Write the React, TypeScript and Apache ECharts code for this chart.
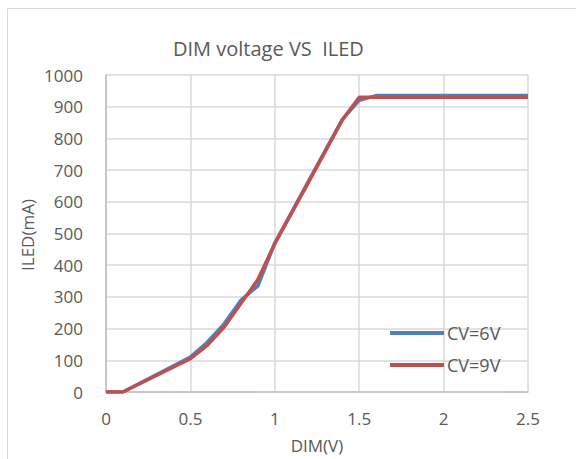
import React, { useEffect, useRef } from "react";
import * as echarts from "echarts";

const xValues = [0, 0.1, 0.5, 0.6, 0.7, 0.8, 0.9, 1.0, 1.2, 1.4, 1.5, 1.6, 2.0, 2.5];
const cv6 = [0, 0, 110, 157, 215, 290, 335, 470, 665, 860, 920, 935, 935, 935];
const cv9 = [0, 0, 105, 147, 205, 280, 355, 468, 662, 858, 930, 930, 930, 930];
const seriesNames = ["CV=6V", "CV=9V"];
const titleText = "DIM voltage VS  ILED";
const xName = "DIM(V)";
const yName = "ILED(mA)";

const FONT = "'Open Sans', 'Noto Sans', sans-serif";
const TXT = "#595959";

export default function App() {
  const ref = useRef<HTMLDivElement>(null);
  useEffect(() => {
    if (!ref.current) return;
    const chart = echarts.init(ref.current, undefined, { renderer: "svg" });
    chart.setOption({
      animation: false,
      backgroundColor: "#ffffff",
      title: {
        text: titleText,
        left: 168,
        top: 33,
        textStyle: { fontFamily: FONT, fontSize: 20, fontWeight: "normal", color: TXT },
      },
      graphic: [
        {
          type: "rect",
          shape: { x: 7.5, y: 8.5, width: 600, height: 500 },
          style: { fill: "none", stroke: "#d9d9d9", lineWidth: 1 },
          silent: true,
        },
        {
          type: "text",
          x: 27,
          y: 235,
          rotation: Math.PI / 2,
          style: {
            text: yName,
            fontFamily: FONT,
            fontSize: 17,
            fill: TXT,
            align: "center",
            verticalAlign: "middle",
          },
        },
      ],
      legend: {
        orient: "vertical",
        left: 385,
        top: 319,
        itemWidth: 54,
        itemHeight: 4,
        itemGap: 14,
        icon: "rect",
        data: seriesNames,
        textStyle: { fontFamily: FONT, fontSize: 18, color: TXT, padding: [0, 0, 0, -2] },
      },
      grid: { left: 106, right: 48, top: 75, bottom: 64, containLabel: false },
      xAxis: {
        type: "value",
        min: 0,
        max: 2.5,
        interval: 0.5,
        name: xName,
        nameLocation: "middle",
        nameGap: 45,
        nameTextStyle: { fontFamily: FONT, fontSize: 17, color: TXT },
        axisLine: { show: true, lineStyle: { color: "#bfbfbf", width: 1.5 } },
        axisTick: { show: false },
        splitLine: { show: true, lineStyle: { color: "#d9d9d9", width: 1.5 } },
        axisLabel: { fontFamily: FONT, fontSize: 17, color: TXT, margin: 18, formatter: (v: number) => String(v) },
      },
      yAxis: {
        type: "value",
        min: 0,
        max: 1000,
        interval: 100,
        axisLine: { show: true, lineStyle: { color: "#bfbfbf", width: 1.5 } },
        axisTick: { show: false },
        splitLine: { show: true, lineStyle: { color: "#d9d9d9", width: 1.5 } },
        axisLabel: { fontFamily: FONT, fontSize: 17, color: TXT, margin: 23, formatter: (v: number) => String(v) },
      },
      series: [
        {
          name: seriesNames[0],
          type: "line",
          data: xValues.map((x, i) => [x, cv6[i]]),
          showSymbol: false,
          symbol: "none",
          lineStyle: { color: "#4f81bd", width: 3.5 },
          itemStyle: { color: "#4f81bd" },
        },
        {
          name: seriesNames[1],
          type: "line",
          data: xValues.map((x, i) => [x, cv9[i]]),
          showSymbol: false,
          symbol: "none",
          lineStyle: { color: "#c0504d", width: 3.5 },
          itemStyle: { color: "#c0504d" },
        },
      ],
    });
    return () => chart.dispose();
  }, []);
  return (
    <div
      ref={ref}
      style={{ position: "fixed", left: 0, top: 0, width: 576, height: 459 }}
    />
  );
}
